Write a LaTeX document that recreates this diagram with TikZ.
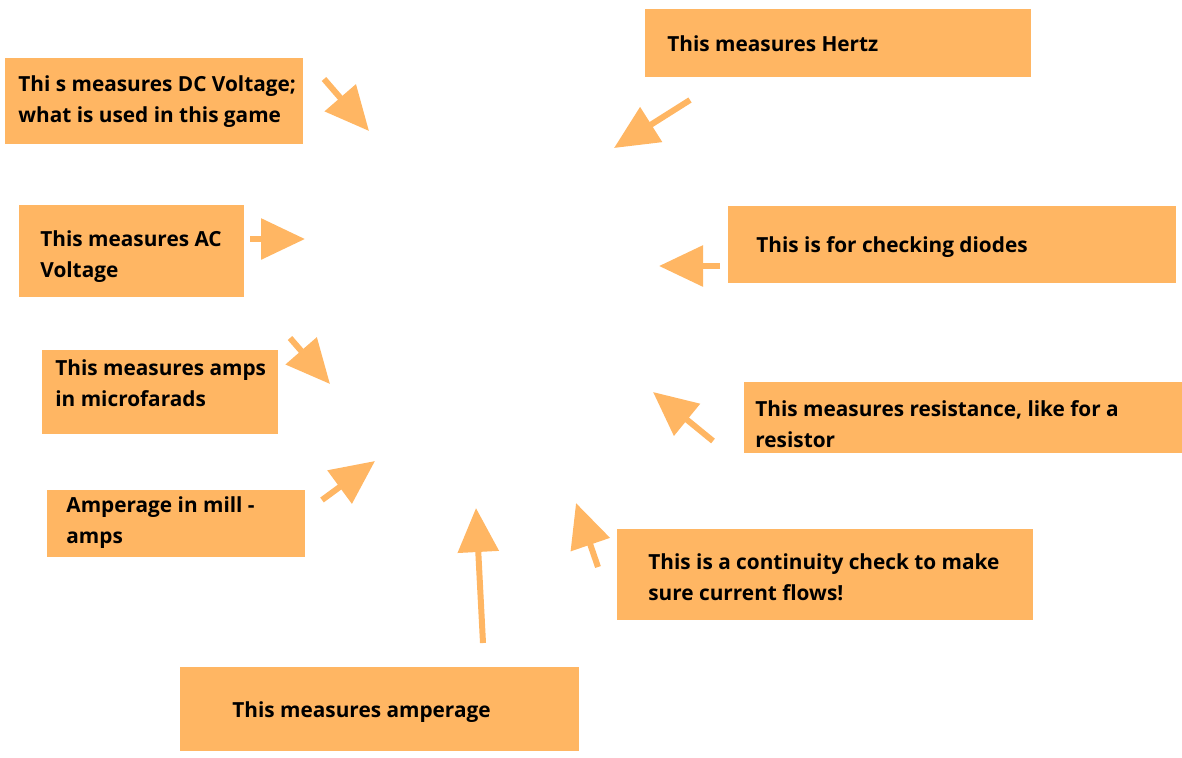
\documentclass[tikz,border=0pt]{standalone}
\usepackage{fontspec}
\setmainfont{Open Sans}
\usetikzlibrary{arrows.meta}
\definecolor{boxorange}{RGB}{255,182,99}
\tikzset{
  panel/.style={fill=boxorange, draw=none, anchor=north west, inner sep=0pt},
  label/.style={anchor=west, inner sep=0pt, align=left,
    font=\fontsize{10.4}{15.5}\selectfont\bfseries},
  pointer/.style={draw=boxorange, line width=3pt,
    -{Triangle[length=22pt,width=20pt]}}
}
\begin{document}
\begin{tikzpicture}[x=0.5pt,y=-0.5pt]
\useasboundingbox (0,0) rectangle (1182,757);

% the boxes
\node[panel, minimum width=149pt, minimum height=43pt] (dc) at (5,58) {};
\node[panel, minimum width=193pt, minimum height=34pt] (hz) at (645,9) {};
\node[panel, minimum width=112.5pt, minimum height=46pt] (ac) at (19,205) {};
\node[panel, minimum width=224pt, minimum height=38.5pt] (di) at (728,206) {};
\node[panel, minimum width=118pt, minimum height=42pt] (mf) at (42,350) {};
\node[panel, minimum width=219pt, minimum height=35.5pt] (rs) at (744,382) {};
\node[panel, minimum width=129pt, minimum height=33.5pt] (ma) at (47,490) {};
\node[panel, minimum width=208pt, minimum height=45.5pt] (ct) at (617,529) {};
\node[panel, minimum width=199.5pt, minimum height=42pt] (am) at (180,667) {};

% the texts
\node[label] (dctext) at (18,102) {Thi s measures DC Voltage;\\what is used in this game};
\node[label] (hztext) at (667,44) {This measures Hertz};
\node[label] (actext) at (40,257) {This measures AC\\Voltage};
\node[label] (ditext) at (756,247) {This is for checking diodes};
\node[label] (mftext) at (55,383) {This measures amps\\in microfarads};
\node[label] (rstext) at (755,424) {This measures resistance, like for a\\resistor};
\node[label] (matext) at (66,523) {Amperage in mill -\\amps};
\node[label] (cttext) at (648,577) {This is a continuity check to make\\sure current flows!};
\node[label] (amtext) at (232,712) {This measures amperage};

% where the arrows point
\coordinate (dctip) at (369,131);
\coordinate (hztip) at (614,148);
\coordinate (actip) at (305,239);
\coordinate (ditip) at (659,266);
\coordinate (mftip) at (330,384);
\coordinate (rstip) at (653,392);
\coordinate (matip) at (375,461);
\coordinate (cttip) at (576,503);
\coordinate (amtip) at (476,508);

\coordinate (dctail) at (324,79);
\coordinate (hztail) at (690,100);
\coordinate (actail) at (250,239);
\coordinate (ditail) at (720,266);
\coordinate (mftail) at (290,338);
\coordinate (rstail) at (713,441);
\coordinate (matail) at (322,500);
\coordinate (cttail) at (598,567);
\coordinate (amtail) at (483,643);

\foreach \n in {dc,hz,ac,di,mf,rs,ma,ct,am}
  \draw[pointer] (\n tail) -- (\n tip);
\end{tikzpicture}
\end{document}
